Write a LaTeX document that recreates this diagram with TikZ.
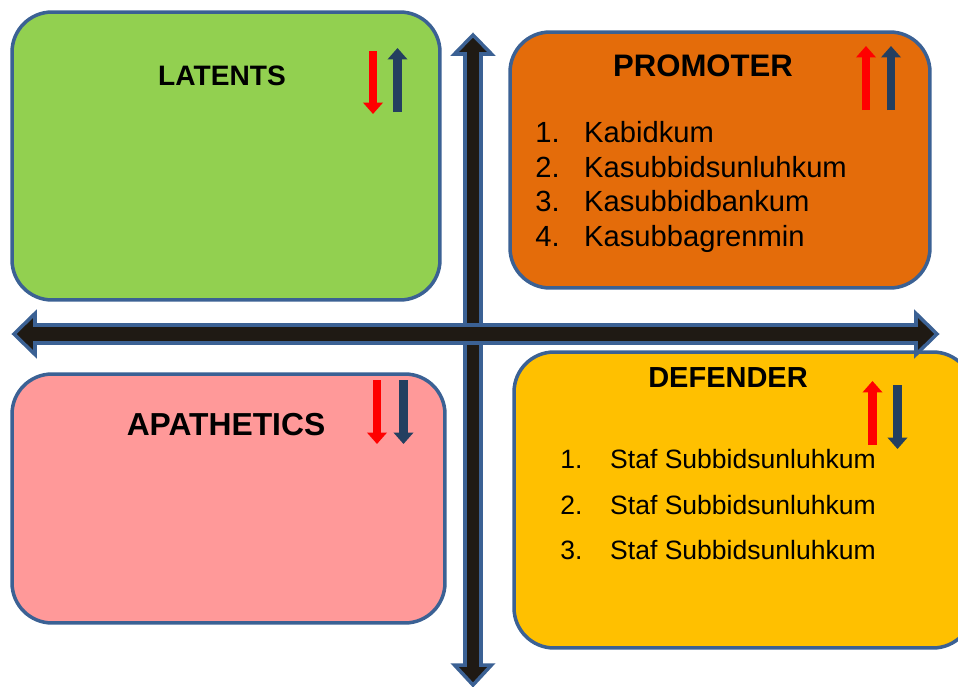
\documentclass[tikz,border=0pt]{standalone}
\usepackage{fontspec}
\setmainfont{Liberation Sans}
\usetikzlibrary{arrows.meta,positioning}

\definecolor{latgreen}{HTML}{92D050}
\definecolor{proorange}{HTML}{E46C0A}
\definecolor{apapink}{HTML}{FF9999}
\definecolor{defyellow}{HTML}{FFC000}
\definecolor{bordblue}{HTML}{3B6194}
\definecolor{axisblack}{HTML}{1F1A14}
\definecolor{navy}{HTML}{243F60}

\begin{document}
\begin{tikzpicture}[x=0.02cm,y=-0.02cm,
    panel/.style={draw=bordblue,line width=2pt,rounded corners=0.8cm,inner sep=0pt},
    axis/.style={draw=bordblue,fill=axisblack,line width=2pt},
    title/.style={font=\bfseries\fontsize{#1}{#1}\selectfont,inner sep=0pt},
    item/.style={anchor=base west,inner sep=0pt,font=\fontsize{#1}{#1}\selectfont},
    tick/.style={line width=5pt,-{Triangle[width=11pt,length=6.5pt]}}]

  \clip (0,0) rectangle (958,687);

  % the four quadrants
  \node[panel,fill=latgreen,minimum width=8.56cm,minimum height=5.76cm]   (latents)    at (226,156)   {};
  \node[panel,fill=proorange,minimum width=8.4cm,minimum height=5.12cm]   (promoter)   at (720,160)   {};
  \node[panel,fill=apapink,minimum width=8.66cm,minimum height=4.98cm]    (apathetics) at (228.5,498.5) {};
  \node[panel,fill=defyellow,minimum width=9.18cm,minimum height=5.92cm]  (defender)   at (743.5,500) {};

  % axes
  \draw[axis] (473,35) -- (491.5,54) -- (481,54) -- (481,665) -- (491.5,665) -- (473,685)
    -- (454.5,665) -- (465,665) -- (465,54) -- (454.5,54) -- cycle;
  \draw[axis] (14,334) -- (35,313.5) -- (35,325) -- (916,325) -- (916,313.5) -- (937,334)
    -- (916,354.5) -- (916,343) -- (35,343) -- (35,354.5) -- cycle;

  % titles
  \node[title=16pt]   (latTitle) at (222,76)  {LATENTS};
  \node[title=17.7pt] (proTitle) at (703,66)  {PROMOTER};
  \node[title=18.1pt] (apaTitle) at (226,425) {APATHETICS};
  \node[title=16.5pt] (defTitle) at (728,378) {DEFENDER};

  % up / down marks
  \draw[tick,red]  (373,51)    -- (373,114);
  \draw[tick,navy] (397.5,112) -- (397.5,48);
  \draw[tick,red]  (866,110)   -- (866,46);
  \draw[tick,navy] (891,110)   -- (891,46);
  \draw[tick,red]  (377,380)   -- (377,444);
  \draw[tick,navy] (403.5,380) -- (403.5,444);
  \draw[tick,red]  (872.5,445) -- (872.5,381);
  \draw[tick,navy] (897.5,385) -- (897.5,449);

  % lists
  \foreach \n/\t in {1/Kabidkum,2/Kasubbidsunluhkum,3/Kasubbidbankum,4/Kasubbagrenmin}
    \node[item=16.6pt] (pro\n) at (535,142.5+34.5*\n-34.5) {\makebox[27.8pt][l]{\n.}\t};
  \foreach \n in {1,2,3}
    \node[item=15.1pt] (def\n) at (560,468.5+45.5*\n-45.5) {\makebox[28.4pt][l]{\n.}Staf Subbidsunluhkum};
\end{tikzpicture}
\end{document}
